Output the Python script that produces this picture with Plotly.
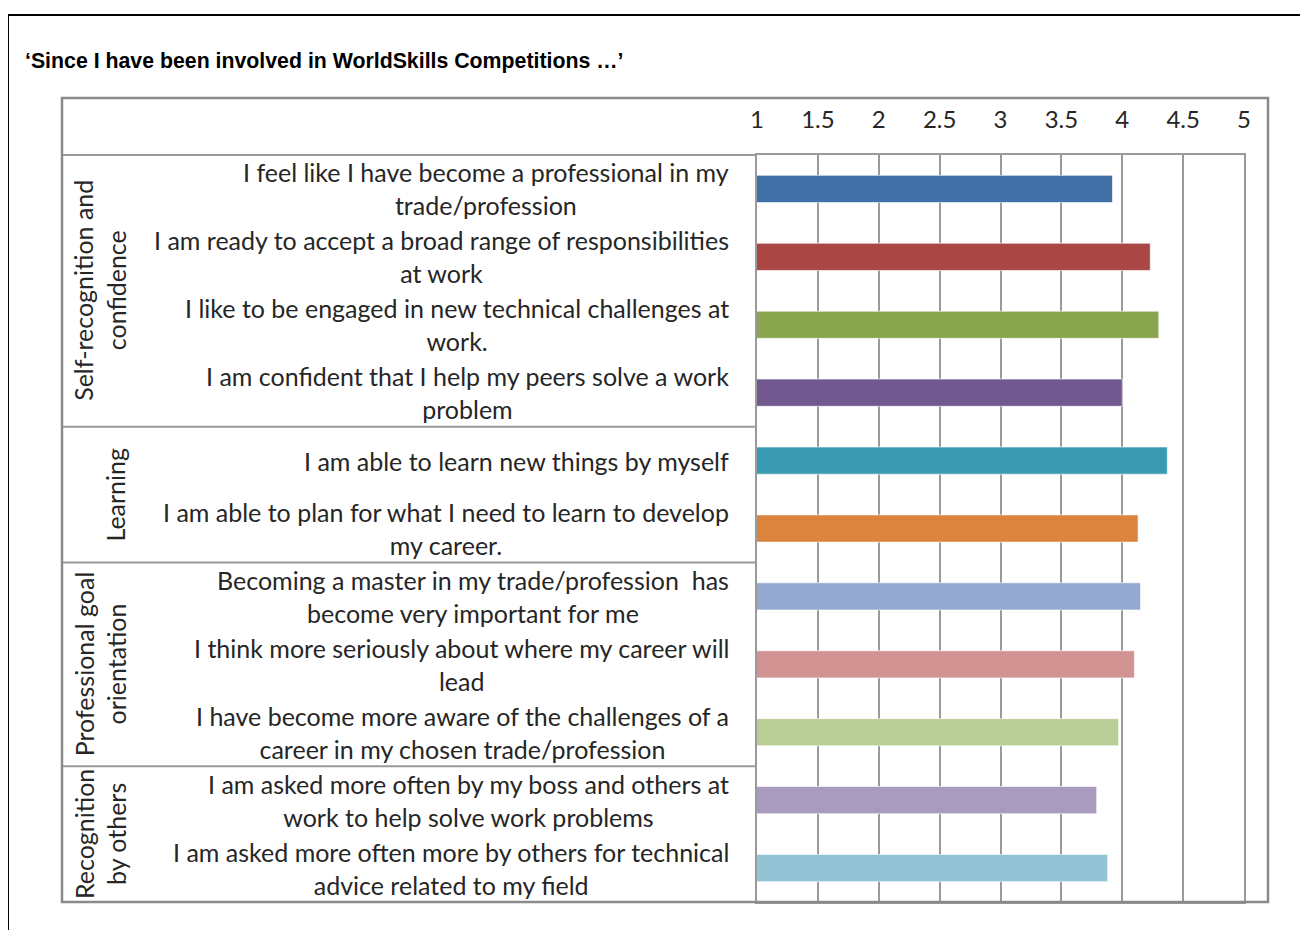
import plotly.graph_objects as go

# ---- data -------------------------------------------------------------
items = [
    "I feel like I have become a professional in my<br>trade/profession",
    "I am ready to accept a broad range of responsibilities<br>at work",
    "I like to be engaged in new technical challenges at<br>work.",
    "I am confident that I help my peers solve a work<br>problem",
    "I am able to learn new things by myself",
    "I am able to plan for what I need to learn to develop<br>my career.",
    "Becoming a master in my trade/profession  has<br>become very important for me",
    "I think more seriously about where my career will<br>lead",
    "I have become more aware of the challenges of a<br>career in my chosen trade/profession",
    "I am asked more often by my boss and others at<br>work to help solve work problems",
    "I am asked more often more by others for technical<br>advice related to my field",
]
scores = [3.92, 4.23, 4.30, 4.00, 4.37, 4.13, 4.15, 4.10, 3.97, 3.79, 3.88]
bar_colors = ["#4170A6", "#AA4643", "#89A54E", "#71588F", "#3A9AB2", "#DB843D",
              "#93A9CF", "#D19392", "#B9CD96", "#A99BBD", "#91C3D5"]

groups = ["Self-recognition and<br>confidence", "Learning",
          "Professional goal<br>orientation", "Recognition<br>by others"]
group_sizes = [4, 2, 3, 2]

TITLE = "\u2018Since I have been involved in WorldSkills Competitions \u2026\u2019"

# ---- layout helpers (window pixel -> paper) ---------------------------
OFF = 8  # page body margin
W, H = 1308 - OFF, 930 - OFF
L, R, T, B = 757, 1244, 155, 902


def px(x):
    return (x - L) / (R - L)


def py(y):
    return (B - y) / (B - T)


FONT = "Lato, Open Sans, sans-serif"
GRID = "#9a9a9a"
TXT = "#262626"

ypos = list(range(len(items)))

fig = go.Figure(go.Bar(
    x=scores, y=ypos, base=0, orientation="h", width=0.4,
    marker=dict(color=bar_colors, line=dict(color="rgba(255,255,255,0.6)", width=1)),
    hoverinfo="x",
))

annotations = []
# item labels
for yi, txt in zip(ypos, items):
    annotations.append(dict(
        x=px(731), xref="paper", y=yi, yref="y", text=txt, showarrow=False,
        xanchor="right", yanchor="middle", align="center",
        font=dict(family=FONT, size=25, color=TXT),
    ))

# group labels + separators
shapes = []
start = 0
for g, n in zip(groups, group_sizes):
    mid = start + (n - 1) / 2
    two_lines = "<br>" in g
    annotations.append(dict(
        x=px(100 if two_lines else 115), xref="paper", y=mid, yref="y", text=g,
        showarrow=False, textangle=-90, xanchor="center", yanchor="middle",
        align="center", font=dict(family=FONT, size=25, color=TXT),
    ))
    start += n
    if start < len(items):
        shapes.append(dict(type="line", xref="paper", yref="y",
                           x0=px(62), x1=0, y0=start - 0.5, y1=start - 0.5,
                           line=dict(color=GRID, width=2)))

# top line of table
shapes.append(dict(type="line", xref="paper", yref="paper",
                   x0=px(62), x1=0, y0=1, y1=1, line=dict(color=GRID, width=2)))
# chart box
shapes.append(dict(type="rect", xref="paper", yref="paper",
                   x0=px(62), x1=px(1268), y0=py(98), y1=py(902),
                   line=dict(color="#8a8a8a", width=2.5)))
# outer page frame
shapes.append(dict(type="line", xref="paper", yref="paper",
                   x0=px(8), x1=px(8), y0=py(15), y1=py(935),
                   line=dict(color="black", width=2)))
shapes.append(dict(type="line", xref="paper", yref="paper",
                   x0=px(8), x1=px(1320), y0=py(15), y1=py(15),
                   line=dict(color="black", width=2)))

# title
annotations.append(dict(
    x=px(23), xref="paper", y=py(61), yref="paper", text="<b>" + TITLE + "</b>",
    showarrow=False, xanchor="left", yanchor="middle",
    font=dict(family="Liberation Sans, Arial, sans-serif", size=21.3, color="black"),
))

fig.update_layout(
    width=W, height=H,
    margin=dict(l=L - OFF, r=W - (R - OFF), t=T - OFF, b=H - (B - OFF)),
    paper_bgcolor="white", plot_bgcolor="white",
    showlegend=False,
    xaxis=dict(
        range=[1, 5], dtick=0.5, tick0=1, side="top",
        showgrid=True, gridcolor=GRID, gridwidth=1.5,
        showline=True, linecolor=GRID, linewidth=2, mirror=True,
        zeroline=False, ticks="", ticklabelstandoff=15,
        tickfont=dict(family=FONT, size=24, color=TXT),
    ),
    yaxis=dict(
        range=[len(items) - 0.5, -0.5], showticklabels=False, showgrid=False,
        zeroline=False, showline=True, linecolor=GRID, linewidth=2, mirror=True,
        ticks="",
    ),
    annotations=annotations,
    shapes=shapes,
)

fig.write_html("out.html")
